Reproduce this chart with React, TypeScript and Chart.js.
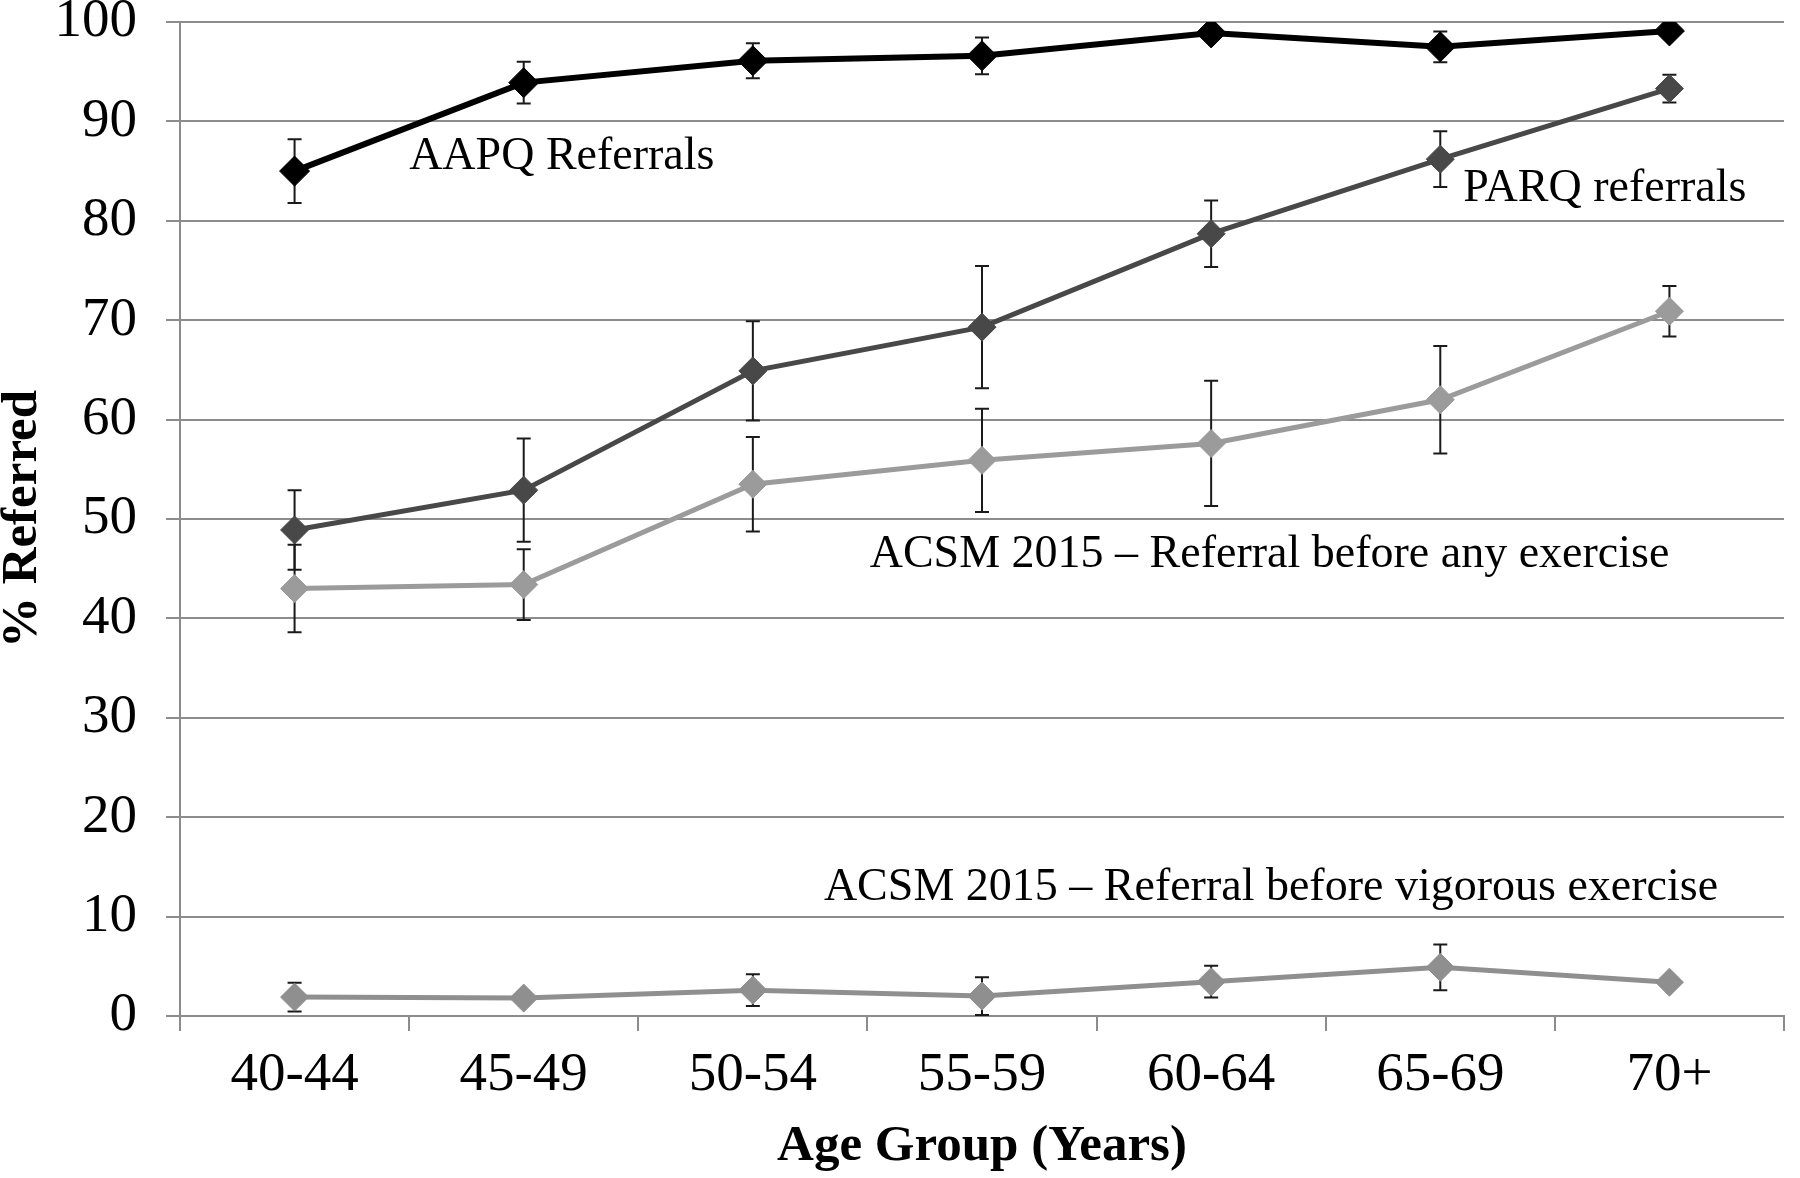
import React, { useEffect, useRef } from "react";
import { Chart, registerables } from "chart.js";

Chart.register(...registerables);

const categories = ["40-44", "45-49", "50-54", "55-59", "60-64", "65-69", "70+"];

const aapq = [85.0, 93.9, 96.1, 96.6, 98.9, 97.5, 99.1];
const aapqErr = [3.2, 2.1, 1.75, 1.85, 0.6, 1.55, 0.3];

const parq = [48.9, 52.9, 64.9, 69.3, 78.7, 86.2, 93.3];
const parqErr = [4.0, 5.2, 5.0, 6.15, 3.35, 2.8, 1.4];

const acsmAny = [43.0, 43.4, 53.5, 55.9, 57.6, 62.0, 70.9];
const acsmAnyErr = [4.4, 3.55, 4.75, 5.2, 6.3, 5.4, 2.55];

const acsmVig = [1.9, 1.8, 2.6, 2.0, 3.45, 4.9, 3.4];
const acsmVigErr = [1.45, 0.4, 1.6, 1.9, 1.6, 2.3, 0.4];

const yTicks = [0, 10, 20, 30, 40, 50, 60, 70, 80, 90, 100];

// annotation anchors in data units: [category index (fractional), value]
const annotationTexts = [
  "AAPQ Referrals",
  "PARQ referrals",
  "ACSM 2015 \u2013 Referral before any exercise",
  "ACSM 2015 \u2013 Referral before vigorous exercise",
];
const annotationX = [0.5, 5.1, 2.51, 2.31];
const annotationY = [86.4, 83.2, 46.4, 12.9];

const SERIF = "'Liberation Serif', 'Times New Roman', serif";

const errorBarPlugin = {
  id: "errorBars",
  beforeDatasetsDraw(chart: any) {
    const ctx = chart.ctx;
    const xs = chart.scales.x;
    const ys = chart.scales.y;
    const sets = [
      [aapq, aapqErr],
      [parq, parqErr],
      [acsmAny, acsmAnyErr],
      [acsmVig, acsmVigErr],
    ];
    ctx.save();
    ctx.strokeStyle = "#1a1a1a";
    ctx.lineWidth = 2;
    const cap = 7;
    sets.forEach(([vals, errs]) => {
      vals.forEach((v: number, i: number) => {
        const x = xs.getPixelForValue(i);
        const top = ys.getPixelForValue(v + errs[i]);
        const bot = ys.getPixelForValue(v - errs[i]);
        ctx.beginPath();
        ctx.moveTo(x, top);
        ctx.lineTo(x, bot);
        ctx.moveTo(x - cap, top);
        ctx.lineTo(x + cap, top);
        ctx.moveTo(x - cap, bot);
        ctx.lineTo(x + cap, bot);
        ctx.stroke();
      });
    });
    ctx.restore();
  },
};

const annotationPlugin = {
  id: "textAnnotations",
  afterDatasetsDraw(chart: any) {
    const ctx = chart.ctx;
    const xs = chart.scales.x;
    const ys = chart.scales.y;
    ctx.save();
    ctx.fillStyle = "#000";
    ctx.font = `46px ${SERIF}`;
    ctx.textAlign = "left";
    ctx.textBaseline = "middle";
    annotationTexts.forEach((t, i) => {
      ctx.fillText(t, xs.getPixelForValue(annotationX[i]), ys.getPixelForValue(annotationY[i]));
    });
    ctx.restore();
  },
};

export default function App() {
  const ref = useRef<HTMLCanvasElement | null>(null);
  useEffect(() => {
    document.body.style.margin = "0";
    const canvas = ref.current!;
    const mk = (label: string, data: number[], color: string, radius: number, width: number) => ({
      label,
      data,
      borderColor: color,
      backgroundColor: color,
      borderWidth: width,
      pointStyle: "rectRot",
      pointRadius: radius,
      pointBorderWidth: 1,
      pointBorderColor: color,
      pointBackgroundColor: color,
      tension: 0,
    });
    const gridColor = "#8c8c8c";
    const chart = new Chart(canvas, {
      type: "line",
      data: {
        labels: categories,
        datasets: [
          mk("AAPQ Referrals", aapq, "#000000", 15, 6),
          mk("PARQ referrals", parq, "#484848", 14, 5),
          mk("ACSM 2015 – Referral before any exercise", acsmAny, "#9b9b9b", 14, 5),
          mk("ACSM 2015 – Referral before vigorous exercise", acsmVig, "#8f8f8f", 14, 5),
        ],
      },
      options: {
        animation: false,
        responsive: false,
        layout: { padding: { top: 0, right: 6, bottom: 0, left: 0 } },
        plugins: { legend: { display: false }, tooltip: { enabled: false } },
        scales: {
          x: {
            type: "category",
            offset: true,
            grid: {
              offset: true,
              drawOnChartArea: false,
              drawTicks: true,
              tickLength: 15,
              color: gridColor,
              lineWidth: 2,
            },
            border: { color: gridColor, width: 2 },
            ticks: {
              color: "#000",
              font: { family: SERIF, size: 55 },
              padding: 12,
              maxRotation: 0,
            },
            title: {
              display: true,
              text: "Age Group (Years)",
              color: "#000",
              font: { family: SERIF, size: 51, weight: "bold" },
              padding: { top: 0, bottom: 1 },
            },
            afterFit: (s: any) => {
              s.height = 1178 - 1016;
              s.paddingLeft = 0;
              s.paddingRight = 0;
            },
          },
          y: {
            min: 0,
            max: 100,
            afterBuildTicks: (s: any) => {
              s.ticks = yTicks.map((v) => ({ value: v }));
            },
            grid: {
              color: gridColor,
              lineWidth: 2,
              drawTicks: true,
              tickLength: 14,
            },
            border: { color: gridColor, width: 2 },
            ticks: {
              color: "#000",
              font: { family: SERIF, size: 55 },
              padding: 29,
            },
            title: {
              display: true,
              text: "% Referred",
              color: "#000",
              font: { family: SERIF, size: 51, weight: "bold", lineHeight: 0.9 },
              padding: { top: 0, bottom: 0 },
            },
            afterFit: (s: any) => {
              s.width = 180;
              s.paddingTop = 22;
              s.paddingBottom = 0;
            },
          },
        },
      },
      plugins: [errorBarPlugin, annotationPlugin],
    } as any);
    return () => chart.destroy();
  }, []);
  return <canvas ref={ref} width={1800} height={1178} style={{ display: "block" }} />;
}
